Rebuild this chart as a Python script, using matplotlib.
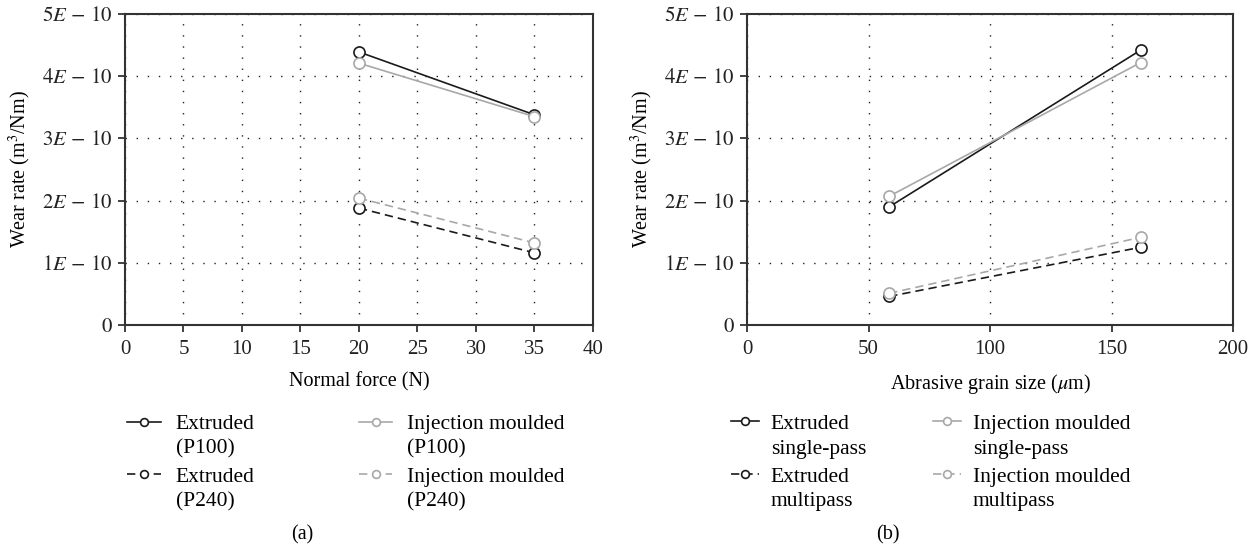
import matplotlib
matplotlib.use('Agg')
import matplotlib.pyplot as plt
from matplotlib.legend_handler import HandlerLine2D

# panel (a): wear rate vs normal force
force = [20, 35]
ext_p100 = [4.39e-10, 3.38e-10]
inj_p100 = [4.21e-10, 3.35e-10]
ext_p240 = [1.88e-10, 1.16e-10]
inj_p240 = [2.04e-10, 1.32e-10]

# panel (b): wear rate vs abrasive grain size
grain = [58.5, 162]
ext_single = [1.90e-10, 4.42e-10]
inj_single = [2.07e-10, 4.22e-10]
ext_multi = [0.46e-10, 1.25e-10]
inj_multi = [0.51e-10, 1.41e-10]

labels_a = ['Extruded\n(P100)', 'Injection moulded\n(P100)',
            'Extruded\n(P240)', 'Injection moulded\n(P240)']
labels_b = ['Extruded\nsingle-pass', 'Injection moulded\nsingle-pass',
            'Extruded\nmultipass', 'Injection moulded\nmultipass']
yticks = [0, 1e-10, 2e-10, 3e-10, 4e-10, 5e-10]
ytick_labels = ['$0$', '$1E\\,-\\,10$', '$2E\\,-\\,10$', '$3E\\,-\\,10$',
                '$4E\\,-\\,10$', '$5E\\,-\\,10$']

plt.rcParams['font.family'] = ['Liberation Serif', 'DejaVu Serif']
plt.rcParams['mathtext.fontset'] = 'stix'
plt.rcParams['font.size'] = 14.5

dark = '#1a1a1a'
light = '#a8a8a8'


class TopLine(HandlerLine2D):
    # put the legend handle next to the first line of a two-line label
    def create_artists(self, legend, orig_handle, xdescent, ydescent,
                       width, height, fontsize, trans):
        return super().create_artists(legend, orig_handle, xdescent,
                                      ydescent - 1.38 * fontsize, width, height,
                                      fontsize, trans)


fig = plt.figure(figsize=(12.6, 5.52), dpi=100)
ax1 = fig.add_axes([0.0992, 0.4112, 0.3714, 0.5634])
ax2 = fig.add_axes([0.5929, 0.4112, 0.3857, 0.5634])

def draw(ax, x, series, labels):
    styles = [(dark, '-'), (light, '-'), (dark, '--'), (light, '--')]
    lines = []
    for ys, (c, ls), lab in zip(series, styles, labels):
        ln, = ax.plot(x, ys, color=c, linestyle=ls, linewidth=1.2, marker='o',
                      markersize=8, markerfacecolor='white', markeredgecolor=c,
                      markeredgewidth=1.2, label=lab)
        if ls == '--':
            ln.set_dashes((5, 3))
        lines.append(ln)
    ax.set_ylim(0, 5e-10)
    ax.set_yticks(yticks)
    ax.set_yticklabels(ytick_labels, fontsize=15)
    ax.set_ylabel('Wear rate (m$^3$/Nm)')
    ax.grid(True, linestyle=(0, (1, 7)), color='#222222', linewidth=1)
    for s in ax.spines.values():
        s.set_linewidth(1.5)
        s.set_color('#333333')
    ax.tick_params(direction='out', length=5, width=1.2, colors='#222222')
    ax.tick_params(axis='x', labelsize=15, pad=6)
    return lines

lines_a = draw(ax1, force, [ext_p100, inj_p100, ext_p240, inj_p240], labels_a)
ax1.set_xlim(0, 40)
ax1.set_xticks(range(0, 41, 5))
ax1.set_xlabel('Normal force (N)', labelpad=9)
ax1.yaxis.set_label_coords(-0.197, 0.5)

lines_b = draw(ax2, grain, [ext_single, inj_single, ext_multi, inj_multi], labels_b)
ax2.set_xlim(0, 200)
ax2.set_xticks([0, 50, 100, 150, 200])
ax2.set_xlabel('Abrasive grain size ($\\mu$m)', labelpad=9)
ax2.yaxis.set_label_coords(-0.189, 0.5)

# legend rows: matplotlib fills columns first, so reorder
order = [0, 2, 1, 3]
for ax, lines, anchor, hl, pad, colsp in [(ax1, lines_a, (0.005, -0.29), 1.55, 0.7, 4.85),
                                          (ax2, lines_b, (-0.033, -0.29), 1.3, 0.55, 3.1)]:
    leg = ax.legend([lines[i] for i in order], [lines[i].get_label() for i in order],
                    loc='upper left', bbox_to_anchor=anchor, ncol=2, frameon=False,
                    fontsize=15.5, borderpad=0, borderaxespad=0,
                    handlelength=hl, handletextpad=pad, columnspacing=colsp,
                    labelspacing=0.42, markerscale=0.7,
                    handler_map={matplotlib.lines.Line2D: TopLine()})
    for t in leg.get_texts():
        t.set_linespacing(1.38)

fig.text(0.240, 0.031, '(a)', ha='center', va='center', fontsize=14.5)
fig.text(0.705, 0.031, '(b)', ha='center', va='center', fontsize=14.5)

fig.savefig('out.png', dpi=100)
